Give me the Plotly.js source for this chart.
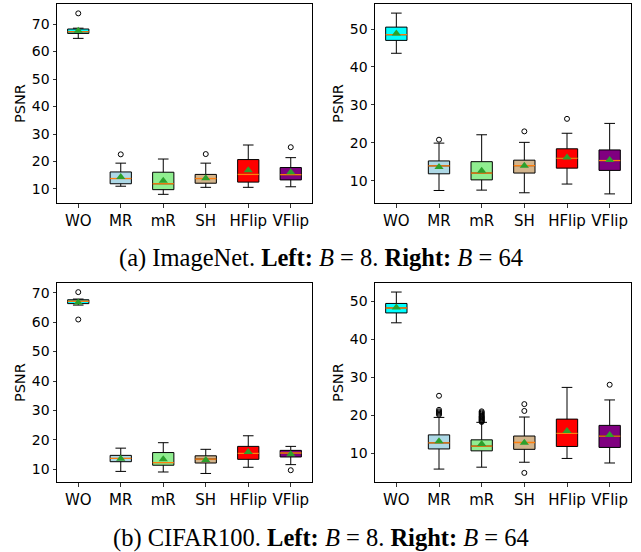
<!DOCTYPE html>
<html>
<head>
<meta charset="utf-8">
<script src="https://cdn.plot.ly/plotly-3.0.1.min.js"></script>
<style>html,body{margin:0;padding:0;background:#fff;}#plot{width:641px;height:552px;}</style>
</head>
<body>
<div id="plot"></div>
<script>
const categories = ['WO', 'MR', 'mR', 'SH', 'HFlip', 'VFlip'];
const boxColors = ['#00ffff', '#add8e6', '#90ee90', '#d2b48c', '#ff0000', '#800080'];

// (a) ImageNet, B = 8
const in8_lo   = [64.8, 11.0, 8.05, 10.6, 10.6, 10.8];
const in8_q1   = [66.6, 11.9, 9.75, 12.1, 12.5, 13.3];
const in8_med  = [67.2, 13.8, 11.9, 13.8, 15.3, 15.2];
const in8_q3   = [68.2, 16.2, 16.1, 15.3, 20.7, 17.8];
const in8_hi   = [68.5, 19.4, 20.9, 19.4, 26.0, 21.4];
const in8_mean = [67.6, 14.4, 13.0, 13.9, 16.8, 16.1];
const in8_out  = [[73.9], [22.6], [], [22.7], [], [25.2]];

// (a) ImageNet, B = 64
const in64_lo   = [43.6, 7.4, 7.5, 6.8, 9.1, 6.5];
const in64_q1   = [47.0, 11.8, 10.2, 12.0, 13.3, 12.7];
const in64_med  = [48.5, 13.9, 12.0, 13.95, 15.9, 15.3];
const in64_q3   = [50.5, 15.2, 15.0, 15.4, 18.4, 18.1];
const in64_hi   = [54.2, 19.9, 22.1, 20.1, 22.5, 25.1];
const in64_mean = [48.8, 13.6, 12.6, 13.9, 16.1, 15.45];
const in64_out  = [[], [20.8], [], [23.0], [26.3], []];

// (b) CIFAR100, B = 8
const c8_lo   = [65.8, 9.3, 9.1, 8.6, 10.7, 11.6];
const c8_q1   = [66.3, 12.6, 11.4, 12.15, 13.4, 14.2];
const c8_med  = [67.1, 13.7, 12.3, 13.5, 15.4, 15.55];
const c8_q3   = [67.6, 14.75, 15.7, 14.6, 17.8, 16.45];
const c8_hi   = [67.85, 17.2, 19.05, 16.8, 21.4, 17.8];
const c8_mean = [66.7, 13.6, 13.4, 13.2, 15.9, 15.1];
const c8_out  = [[70.2, 60.9], [], [], [], [], [9.7]];

// (b) CIFAR100, B = 64
const c64_lo   = [44.3, 5.8, 6.3, 7.6, 8.6, 7.4];
const c64_q1   = [46.9, 11.1, 10.6, 11.0, 11.75, 11.5];
const c64_med  = [48.2, 12.7, 11.85, 12.8, 15.2, 14.5];
const c64_q3   = [49.4, 14.8, 13.5, 14.5, 18.95, 17.3];
const c64_hi   = [52.4, 19.4, 18.1, 19.5, 27.3, 24.0];
const c64_mean = [48.3, 13.1, 12.4, 12.7, 15.8, 14.8];
const c64_out  = [[], [25.1, 21.4, 21.0, 20.7, 20.4, 20.1],
                  [21.0, 20.7, 20.4, 20.1, 19.8, 19.6, 19.4, 19.2, 19.0, 18.8, 18.6, 18.4, 18.2],
                  [22.9, 21.1, 4.8], [], [28.0]];

const panels = [
  {xa: 'x',  ya: 'y',  lo: in8_lo,  q1: in8_q1,  med: in8_med,  q3: in8_q3,  hi: in8_hi,  mean: in8_mean,  out: in8_out},
  {xa: 'x2', ya: 'y2', lo: in64_lo, q1: in64_q1, med: in64_med, q3: in64_q3, hi: in64_hi, mean: in64_mean, out: in64_out},
  {xa: 'x3', ya: 'y3', lo: c8_lo,   q1: c8_q1,   med: c8_med,   q3: c8_q3,   hi: c8_hi,   mean: c8_mean,   out: c8_out},
  {xa: 'x4', ya: 'y4', lo: c64_lo,  q1: c64_q1,  med: c64_med,  q3: c64_q3,  hi: c64_hi,  mean: c64_mean,  out: c64_out}
];

const BW = 0.5;
const traces = [];
panels.forEach(p => {
  categories.forEach((c, i) => {
    traces.push({
      type: 'box', x: [i], q1: [p.q1[i]], median: [p.med[i]], q3: [p.q3[i]],
      lowerfence: [p.lo[i]], upperfence: [p.hi[i]],
      width: BW, whiskerwidth: 0.5, fillcolor: boxColors[i],
      line: {color: '#000', width: 1}, boxpoints: false,
      xaxis: p.xa, yaxis: p.ya, showlegend: false, hoverinfo: 'skip'
    });
  });
  const mx = [], my = [];
  categories.forEach((c, i) => {
    mx.push(i - BW / 2, i + BW / 2, null);
    my.push(p.med[i], p.med[i], null);
  });
  traces.push({type: 'scatter', mode: 'lines', x: mx, y: my, line: {color: '#ff7f0e', width: 1.3},
    xaxis: p.xa, yaxis: p.ya, showlegend: false, hoverinfo: 'skip'});
  traces.push({type: 'scatter', mode: 'markers', x: categories.map((c, i) => i), y: p.mean,
    marker: {symbol: 'triangle-up', size: 8, color: '#2ca02c'},
    xaxis: p.xa, yaxis: p.ya, showlegend: false, hoverinfo: 'skip'});
  const ox = [], oy = [];
  p.out.forEach((arr, i) => arr.forEach(v => { ox.push(i); oy.push(v); }));
  traces.push({type: 'scatter', mode: 'markers', x: ox, y: oy,
    marker: {symbol: 'circle-open', size: 5, color: '#000', line: {width: 1}},
    xaxis: p.xa, yaxis: p.ya, showlegend: false, hoverinfo: 'skip'});
});

const W = 641, H = 552;
const xTickFont = {family: 'DejaVu Sans', size: 15, color: '#000'};
const yTickFont = {family: 'DejaVu Sans', size: 14, color: '#000'};
const titleFont = {family: 'DejaVu Sans', size: 14.5, color: '#000'};
function xax(dom, anchor) {
  return {domain: dom, anchor: anchor, range: [-0.5, 5.5], tickmode: 'array',
    tickvals: categories.map((c, i) => i), ticktext: categories, ticks: 'outside', ticklen: 3.5,
    tickwidth: 0.8, tickcolor: '#000', showline: true, mirror: true, linecolor: '#000', linewidth: 1,
    showgrid: false, zeroline: false, tickfont: xTickFont, automargin: false};
}
function yax(dom, anchor, range) {
  return {domain: dom, anchor: anchor, range: range, dtick: 10, tick0: 0, ticks: 'outside', ticklen: 3.5,
    tickwidth: 0.8, tickcolor: '#000', showline: true, mirror: true, linecolor: '#000', linewidth: 1,
    showgrid: false, zeroline: false, tickfont: yTickFont, automargin: false,
    title: {text: 'PSNR', font: titleFont, standoff: 2}};
}
const xL = [57 / W, 312 / W], xR = [375 / W, 631 / W];
const yT = [1 - 203 / H, 1 - 4 / H], yB = [1 - 482 / H, 1 - 283.3 / H];

const layout = {
  width: W, height: H, margin: {l: 0, r: 0, t: 0, b: 0},
  paper_bgcolor: '#fff', plot_bgcolor: '#fff', boxmode: 'overlay', showlegend: false,
  xaxis: xax(xL, 'y'), yaxis: yax(yT, 'x', [4.9, 77.3]),
  xaxis2: xax(xR, 'y2'), yaxis2: yax(yT, 'x2', [4.1, 56.6]),
  xaxis3: xax(xL, 'y3'), yaxis3: yax(yB, 'x3', [5.7, 73.2]),
  xaxis4: xax(xR, 'y4'), yaxis4: yax(yB, 'x4', [2.4, 54.7]),
  annotations: [
    {xref: 'paper', yref: 'paper', x: 0.5, y: 1 - 258 / H, xanchor: 'center', yanchor: 'middle', showarrow: false,
     text: '(a) ImageNet. <b>Left:</b> <i>B</i> = 8. <b>Right:</b> <i>B</i> = 64',
     font: {family: 'Liberation Serif', size: 24.5, color: '#000'}},
    {xref: 'paper', yref: 'paper', x: 0.5, y: 1 - 538 / H, xanchor: 'center', yanchor: 'middle', showarrow: false,
     text: '(b) CIFAR100. <b>Left:</b> <i>B</i> = 8. <b>Right:</b> <i>B</i> = 64',
     font: {family: 'Liberation Serif', size: 24.5, color: '#000'}}
  ]
};

Plotly.newPlot('plot', traces, layout, {staticPlot: true, displayModeBar: false});
</script>
</body>
</html>
